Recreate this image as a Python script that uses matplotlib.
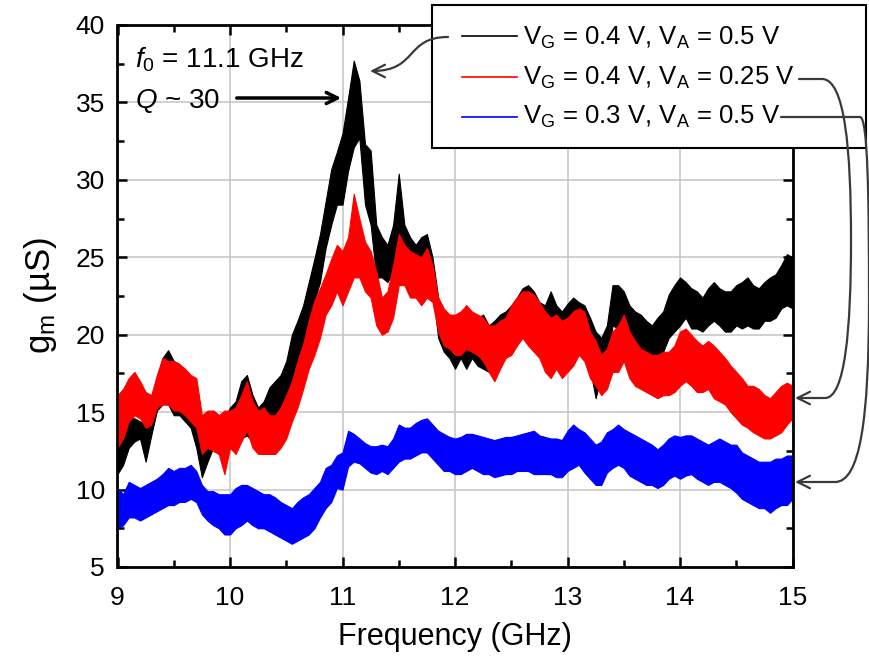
import numpy as np
import matplotlib
matplotlib.use('Agg')
from matplotlib import pyplot as plt
from matplotlib.path import Path
from matplotlib.patches import FancyArrowPatch, Rectangle
from matplotlib.lines import Line2D

plt.rcParams['font.family'] = ['Liberation Sans', 'DejaVu Sans']
plt.rcParams['mathtext.fontset'] = 'custom'
plt.rcParams['mathtext.rm'] = 'Liberation Sans'
plt.rcParams['mathtext.it'] = 'Liberation Sans:italic'

# frequency grid of the read-off band edges (GHz)
freq = np.linspace(9.0, 15.0, 121)

# VG = 0.4 V, VA = 0.5 V (black) - lower / upper edge of the noisy trace (uS)
black_lo = [11.0, 11.6, 12.7, 13.1, 13.3, 11.8, 13.5, 15.1, 15.5, 15.5,
            14.8, 14.8, 14.4, 14.0, 12.7, 10.8, 11.8, 12.7, 12.3, 12.7,
            13.1, 12.7, 13.3, 13.5, 13.1, 13.1, 13.1, 14.0, 14.4, 15.1,
            15.7, 17.0, 18.3, 19.4, 20.9, 22.2, 23.4, 25.6, 27.1, 28.4,
            28.4, 30.6, 32.1, 32.7, 28.4, 27.1, 23.7, 23.7, 23.4, 24.1,
            26.3, 24.5, 24.1, 23.7, 23.7, 24.1, 23.0, 19.8, 18.9, 18.5,
            17.8, 18.5, 17.8, 18.5, 18.0, 17.8, 17.6, 17.6, 18.5, 18.7,
            19.3, 19.8, 20.2, 20.2, 19.8, 19.3, 18.9, 19.8, 19.3, 18.7,
            19.0, 19.6, 19.3, 19.1, 17.8, 15.9, 17.4, 17.8, 20.6, 20.4,
            19.8, 19.6, 19.1, 18.9, 18.5, 18.5, 18.3, 18.9, 19.8, 20.2,
            20.6, 21.1, 20.4, 20.4, 20.2, 20.6, 20.9, 20.6, 20.2, 20.2,
            20.6, 20.4, 20.6, 20.4, 20.4, 20.9, 20.9, 21.1, 21.7, 21.9,
            21.7]
black_hi = [15.3, 14.8, 14.8, 14.6, 14.4, 14.2, 15.1, 17.2, 18.5, 19.0,
            18.3, 18.1, 17.4, 17.0, 15.1, 13.8, 14.4, 15.1, 14.8, 14.6,
            15.3, 15.7, 17.0, 17.4, 16.1, 15.3, 15.7, 16.6, 17.0, 17.4,
            18.3, 20.0, 20.9, 21.9, 23.4, 24.9, 26.5, 28.6, 30.7, 31.8,
            33.0, 35.3, 37.7, 36.4, 32.3, 31.9, 27.1, 26.3, 25.8, 27.1,
            30.4, 27.1, 26.3, 25.8, 26.3, 26.5, 25.0, 22.4, 21.3, 20.9,
            20.9, 21.1, 21.9, 21.3, 21.1, 21.3, 20.6, 20.9, 21.3, 21.5,
            21.9, 22.4, 23.0, 23.2, 22.8, 22.1, 21.9, 22.8, 21.9, 21.5,
            22.0, 22.4, 22.1, 21.9, 21.1, 20.2, 19.8, 20.6, 23.2, 23.2,
            22.8, 21.9, 21.5, 21.3, 20.9, 20.6, 21.1, 21.5, 22.6, 23.2,
            23.7, 23.4, 23.0, 22.8, 22.4, 23.0, 23.4, 23.0, 22.8, 22.8,
            23.2, 23.4, 23.7, 23.2, 23.0, 23.4, 23.7, 23.9, 24.5, 25.2,
            25.0]

# VG = 0.4 V, VA = 0.25 V (red)
red_lo = [12.7, 13.3, 14.4, 14.8, 14.6, 14.0, 14.2, 15.3, 15.5, 15.5,
          15.1, 15.1, 14.8, 14.4, 14.0, 12.3, 12.7, 12.5, 12.3, 11.0,
          12.7, 12.3, 13.1, 13.8, 12.7, 12.3, 12.3, 12.3, 12.3, 12.7,
          13.3, 14.4, 15.3, 16.5, 17.8, 18.7, 19.8, 21.3, 21.9, 22.8,
          21.9, 22.8, 23.7, 23.7, 22.8, 22.4, 20.6, 20.0, 20.2, 21.1,
          23.2, 23.2, 22.4, 22.4, 21.9, 22.4, 22.1, 20.2, 19.3, 19.1,
          18.7, 18.7, 19.1, 18.9, 18.7, 18.3, 17.6, 17.0, 17.8, 18.5,
          18.7, 19.3, 19.8, 19.3, 18.9, 18.5, 17.6, 17.2, 17.8, 17.2,
          17.6, 18.0, 18.7, 18.3, 17.2, 16.7, 16.1, 16.5, 17.6, 17.6,
          18.3, 17.2, 16.7, 16.5, 16.3, 16.1, 15.9, 16.1, 16.1, 16.3,
          16.7, 17.0, 16.7, 16.3, 16.3, 16.5, 15.9, 15.7, 15.5, 15.0,
          14.6, 14.2, 14.0, 13.7, 13.5, 13.3, 13.3, 13.5, 13.7, 14.2,
          14.6]
red_hi = [16.1, 16.5, 17.2, 17.6, 17.0, 16.3, 16.1, 17.4, 18.5, 18.3,
          18.3, 18.1, 17.8, 17.4, 17.2, 14.8, 15.1, 15.1, 14.8, 15.1,
          15.1, 15.3, 16.1, 17.0, 15.7, 15.1, 15.3, 14.8, 14.8, 15.3,
          16.1, 17.0, 18.3, 19.4, 20.9, 22.2, 23.0, 23.9, 24.9, 25.8,
          25.4, 26.3, 29.1, 27.5, 26.0, 25.4, 24.1, 22.4, 22.8, 24.5,
          26.5, 25.8, 25.4, 25.2, 25.0, 25.6, 24.5, 22.4, 21.7, 21.3,
          21.3, 21.5, 21.9, 21.5, 21.3, 21.1, 20.6, 20.6, 20.9, 21.1,
          21.9, 22.4, 22.8, 22.8, 22.6, 22.1, 21.5, 21.1, 21.3, 20.9,
          21.1, 21.5, 21.7, 21.5, 20.2, 19.6, 18.7, 19.1, 20.2, 20.6,
          21.3, 20.2, 19.6, 19.1, 18.9, 18.7, 18.7, 18.9, 18.9, 19.3,
          20.2, 20.4, 20.0, 19.6, 19.3, 19.6, 19.3, 18.9, 18.5, 18.0,
          17.6, 17.2, 16.7, 16.7, 16.5, 16.1, 15.9, 16.3, 16.7, 16.9,
          16.7]

# VG = 0.3 V, VA = 0.5 V (blue)
blue_lo = [7.5, 7.7, 8.2, 8.2, 8.0, 8.2, 8.4, 8.6, 8.8, 9.0,
           9.0, 9.2, 9.2, 9.4, 9.2, 8.4, 8.0, 7.7, 7.5, 7.1,
           7.1, 7.5, 7.7, 8.0, 7.7, 7.5, 7.5, 7.3, 7.1, 6.9,
           6.7, 6.5, 6.7, 6.9, 7.1, 7.5, 8.2, 8.8, 9.2, 10.1,
           10.0, 11.5, 11.8, 11.7, 11.4, 11.1, 11.0, 11.2, 11.0, 11.4,
           11.8, 12.0, 12.0, 12.2, 12.4, 12.4, 12.0, 11.6, 11.2, 11.2,
           11.0, 11.0, 11.2, 11.4, 11.2, 11.0, 11.0, 10.8, 10.9, 11.0,
           11.0, 11.2, 11.2, 11.2, 11.0, 11.0, 11.0, 11.0, 10.8, 10.8,
           11.2, 11.4, 11.6, 11.1, 10.7, 10.3, 10.3, 11.1, 11.4, 11.6,
           11.4, 10.9, 10.7, 10.5, 10.3, 10.3, 10.1, 10.3, 10.7, 10.9,
           10.7, 10.9, 11.0, 10.7, 10.5, 10.3, 10.5, 10.5, 10.3, 10.1,
           9.8, 9.4, 9.2, 9.0, 8.8, 8.8, 8.5, 8.8, 9.0, 9.0,
           9.4]
blue_hi = [10.1, 9.7, 10.5, 10.3, 10.1, 10.3, 10.5, 10.7, 11.0, 11.4,
           11.2, 11.4, 11.4, 11.6, 11.2, 10.3, 9.9, 9.9, 9.7, 9.7,
           9.7, 10.1, 10.3, 10.3, 10.1, 9.9, 9.7, 9.7, 9.5, 9.2,
           9.0, 8.8, 9.2, 9.5, 9.7, 10.1, 10.5, 11.4, 11.6, 12.2,
           12.4, 13.8, 13.6, 13.3, 13.0, 12.8, 12.8, 12.9, 12.8, 13.3,
           14.2, 14.0, 14.0, 14.3, 14.5, 14.6, 14.2, 13.8, 13.6, 13.4,
           13.3, 13.4, 13.6, 13.6, 13.5, 13.4, 13.3, 13.2, 13.3, 13.4,
           13.4, 13.5, 13.6, 13.7, 13.8, 13.5, 13.4, 13.3, 13.3, 13.2,
           13.8, 14.2, 13.9, 13.7, 13.3, 12.9, 13.1, 13.7, 13.9, 14.2,
           13.9, 13.7, 13.5, 13.3, 13.1, 12.9, 12.6, 12.9, 13.3, 13.5,
           13.4, 13.5, 13.5, 13.3, 13.1, 12.9, 13.1, 13.3, 13.1, 12.9,
           12.9, 12.4, 12.2, 12.0, 11.8, 11.8, 11.8, 12.0, 12.0, 12.2,
           12.2]

labels = [r'V$_\mathregular{G}$ = 0.4 V, V$_\mathregular{A}$ = 0.5 V',
          r'V$_\mathregular{G}$ = 0.4 V, V$_\mathregular{A}$ = 0.25 V',
          r'V$_\mathregular{G}$ = 0.3 V, V$_\mathregular{A}$ = 0.5 V']
colors = ['black', 'red', 'blue']

W, H = 869, 659
fig = plt.figure(figsize=(W / 100, H / 100), dpi=100)
ax = fig.add_axes([117.5 / W, 1 - 567 / H, 675 / W, 542 / H])


def px(x, y):
    # pixel position -> figure fraction
    return (x / W, 1 - y / H)


bands = [(black_lo, black_hi), (red_lo, red_hi), (blue_lo, blue_hi)]
for (lo, hi), c in zip(bands, colors):
    ax.fill_between(freq, lo, hi, color=c, lw=0.8, zorder=3)

ax.set_xlim(9, 15)
ax.set_ylim(5, 40)
ax.set_xticks(np.arange(9, 15.1, 1))
ax.set_xticks(np.arange(9.5, 15, 1), minor=True)
ax.set_yticks(np.arange(5, 40.1, 5))
ax.set_yticks(np.arange(7.5, 40, 5), minor=True)
ax.grid(True, which='major', color='#c8c8c8', lw=1.2, zorder=0)
ax.tick_params(which='both', direction='in', top=True, right=True, width=1.8,
               labelsize=19)
ax.tick_params(axis='x', pad=14)
ax.tick_params(axis='y', pad=9)
ax.tick_params(which='major', length=7)
ax.tick_params(which='minor', length=5)
for s in ax.spines.values():
    s.set_linewidth(2)
    s.set_zorder(5)

ax.set_xlabel('Frequency (GHz)', fontsize=22, labelpad=8)
ax.set_ylabel(r'g$_\mathregular{m}$ (µS)', fontsize=25, labelpad=12)

# legend box drawn by hand so it keeps the wide frame of the original
fig.patches.append(Rectangle(px(432, 148), 434 / W, 143 / H, transform=fig.transFigure,
                             facecolor='white', edgecolor='black', lw=1.5, zorder=6))
for lab, c, yl, yb in zip(labels, colors, [36, 77, 117], [45, 84.5, 124]):
    x0, y0 = px(462, yl)
    x1, _ = px(517, yl)
    fig.lines.append(Line2D([x0, x1], [y0, y0], color=c, lw=1.2,
                            transform=fig.transFigure, zorder=7))
    fig.text(*px(523, yb), lab, fontsize=18.5, va='baseline', zorder=7)

fig.text(*px(135, 68), r'$\mathit{f_0}$ = 11.1 GHz', fontsize=20, va='baseline')
fig.text(*px(135, 108), r'$\mathit{Q}$ ~ 30', fontsize=20, va='baseline')

ax.add_patch(FancyArrowPatch(px(234, 98), px(344, 98), transform=fig.transFigure,
                             arrowstyle='->,head_length=8,head_width=4', lw=2.5,
                             color='black', clip_on=False, zorder=6))

conn = dict(transform=fig.transFigure, color='#3a3a3a', lw=1.6,
            arrowstyle='->,head_length=9,head_width=4.5', clip_on=False, zorder=8)
pk = Path([px(448, 37), px(405, 37), px(418, 71), px(370, 71)],
          [Path.MOVETO, Path.CURVE4, Path.CURVE4, Path.CURVE4])
fig.patches.append(FancyArrowPatch(path=pk, **conn))
pr = Path([px(799, 79), px(822, 79), px(845, 79), px(851, 150), px(851, 240),
           px(851, 330), px(845, 398), px(825, 398), px(795, 398)],
          [Path.MOVETO, Path.LINETO, Path.CURVE4, Path.CURVE4, Path.CURVE4,
           Path.CURVE4, Path.CURVE4, Path.CURVE4, Path.LINETO])
fig.patches.append(FancyArrowPatch(path=pr, **conn))
pb = Path([px(781, 117), px(860, 117), px(868, 117), px(869, 200), px(869, 300),
           px(869, 420), px(860, 482), px(835, 482), px(795, 482)],
          [Path.MOVETO, Path.LINETO, Path.CURVE4, Path.CURVE4, Path.CURVE4,
           Path.CURVE4, Path.CURVE4, Path.CURVE4, Path.LINETO])
fig.patches.append(FancyArrowPatch(path=pb, **conn))

fig.savefig('out.png', dpi=100)
